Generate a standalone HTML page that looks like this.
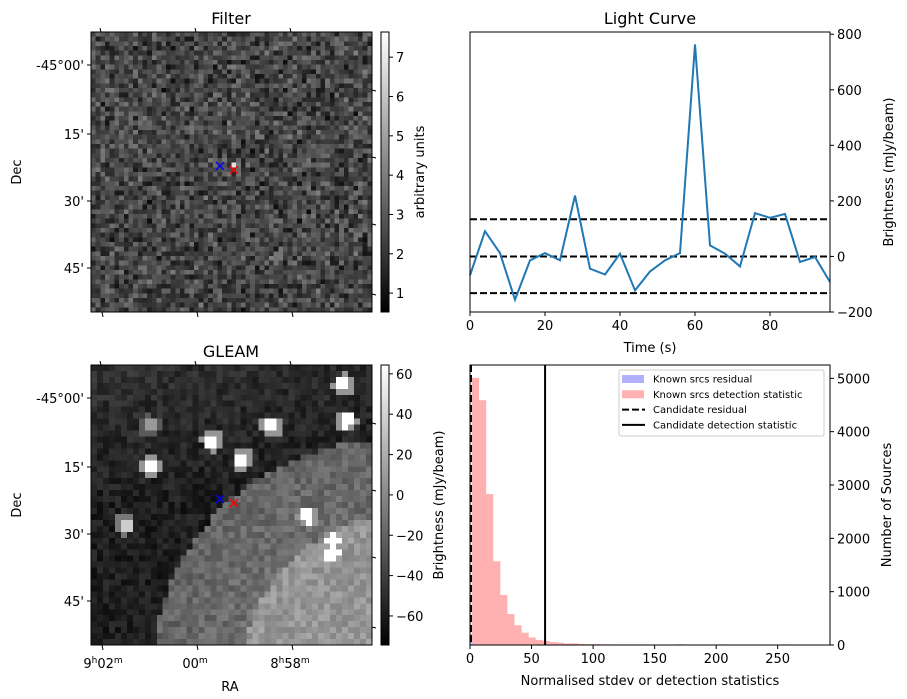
<!DOCTYPE html>
<html><head><meta charset="utf-8">
<style>
body{margin:0;background:#fff;}
#wrap{position:relative;width:907px;height:699px;overflow:hidden;font-family:"DejaVu Sans","Liberation Sans",sans-serif;}
canvas{position:absolute;image-rendering:pixelated;}
svg{position:absolute;left:0;top:0;}
text{font-family:"DejaVu Sans","Liberation Sans",sans-serif;fill:#000;}
</style></head>
<body>
<div id="wrap">
<canvas id="imgF" width="60" height="60" style="left:91px;top:32px;width:281px;height:280px"></canvas>
<canvas id="imgG" width="47" height="47" style="left:91px;top:365px;width:281px;height:280px"></canvas>
<svg id="svg" width="907" height="699" xmlns="http://www.w3.org/2000/svg">
<defs>
<linearGradient id="gray" x1="0" y1="1" x2="0" y2="0"><stop offset="0" stop-color="#000"/><stop offset="1" stop-color="#fff"/></linearGradient>
</defs>
</svg>
</div>
<script>
// Light curve data
const lcTimes=[0,4,8,12,16,20,24,28,32,36,40,44,48,52,56,60,64,68,72,76,80,84,88,92,96];
const lcValues=[-68,91,12,-156,-14,12,-14,219,-44,-65,10,-122,-54,-14,12,763,40,10,-36,156,139,153,-20,-2,-92];
const lcThresholds=[134,0,-132];
const lcXTicks=[0,20,40,60,80];
const lcYTicks=[-200,0,200,400,600,800];
// Histogram data
const histStart=1.4, histWidth=5.75;
const histCounts=[5010,4590,2830,1570,940,580,370,230,140,95,75,55,45,30,30,20,15,15,12,12,10,10,10,10,10,10,8,8,0,15,0,0,0,0,0,12,0,0,0,0,0,0,0,0,10,0,0,0,0,0];
const residCounts=[200,40];
const candidateResidual=0.8;
const candidateStat=61;
const histXTicks=[0,50,100,150,200,250];
const histYTicks=[0,1000,2000,3000,4000,5000];
const filterCbTicks=[1,2,3,4,5,6,7];
const gleamCbTicks=[-60,-40,-20,0,20,40,60];
const decLabels=["-45°00'","15'","30'","45'"];

const svg=document.getElementById('svg');
const NS='http://www.w3.org/2000/svg';
function mk(tag,attrs,parent,txt){const e=document.createElementNS(NS,tag);for(const k in attrs)e.setAttribute(k,attrs[k]);if(txt!==undefined)e.textContent=txt;(parent||svg).appendChild(e);return e;}

// ---- Light curve ----
const LC={x0:470,x1:830,y0:32,y1:312,xmin:0,xmax:96,ymin:-200,ymax:808};
const lx=v=>LC.x0+(v-LC.xmin)/(LC.xmax-LC.xmin)*(LC.x1-LC.x0);
const ly=v=>LC.y1-(v-LC.ymin)/(LC.ymax-LC.ymin)*(LC.y1-LC.y0);
const gLC=mk('g',{});


lcThresholds.forEach(t=>{const l=mk('line',{x1:LC.x0,x2:LC.x1,y1:ly(t),y2:ly(t),stroke:'#000','stroke-width':2,'stroke-dasharray':'7,3'},gLC);

});
const lcPath=mk('polyline',{points:lcTimes.map((t,i)=>lx(t)+','+ly(lcValues[i])).join(' '),fill:'none',stroke:'#1f77b4','stroke-width':2},gLC);


mk('rect',{x:LC.x0,y:LC.y0,width:LC.x1-LC.x0,height:LC.y1-LC.y0,fill:'none',stroke:'#000','stroke-width':1},gLC);
lcXTicks.forEach(t=>{mk('line',{x1:lx(t),x2:lx(t),y1:LC.y1,y2:LC.y1+4,stroke:'#000'},gLC);
const tx=mk('text',{x:lx(t),y:LC.y1+18,'text-anchor':'middle','font-size':13},gLC,t);

});
lcYTicks.forEach(t=>{mk('line',{x1:LC.x1,x2:LC.x1+4,y1:ly(t),y2:ly(t),stroke:'#000'},gLC);
const tx=mk('text',{x:LC.x1+7,y:ly(t)+5,'font-size':13},gLC,(t<0?'−'+(-t):t));

});
mk('text',{x:650,y:24,'text-anchor':'middle','font-size':16},gLC,'Light Curve');
mk('text',{x:650,y:352,'text-anchor':'middle','font-size':13},gLC,'Time (s)');
mk('text',{x:0,y:0,'text-anchor':'middle','font-size':13,transform:'translate(893,172) rotate(-90)'},gLC,'Brightness (mJy/beam)');

// ---- Histogram ----
const H={x0:470,x1:830,y0:365,y1:645,xmin:0,xmax:292.5,ymin:0,ymax:5250};
const hx=v=>H.x0+(v-H.xmin)/(H.xmax-H.xmin)*(H.x1-H.x0);
const hy=v=>H.y1-(v-H.ymin)/(H.ymax-H.ymin)*(H.y1-H.y0);
const gH=mk('g',{});


histCounts.forEach((c,i)=>{if(!c)return;const a=histStart+i*histWidth;
const r=mk('rect',{x:hx(a),y:hy(c),width:hx(a+histWidth)-hx(a)+0.3,height:hy(0)-hy(c),fill:'#ffb0b0'},gH);

});
residCounts.forEach((c,i)=>{const a=0.2+i*1.2;
const r=mk('rect',{x:hx(a),y:hy(c),width:hx(a+1.2)-hx(a),height:hy(0)-hy(c),fill:'#b0b0ff',opacity:0.8},gH);

});
const cr=mk('line',{x1:hx(candidateResidual),x2:hx(candidateResidual),y1:H.y0,y2:H.y1,stroke:'#000','stroke-width':2,'stroke-dasharray':'7,3'},gH);


const cs=mk('line',{x1:hx(candidateStat),x2:hx(candidateStat),y1:H.y0,y2:H.y1,stroke:'#000','stroke-width':2},gH);


mk('rect',{x:H.x0,y:H.y0,width:H.x1-H.x0,height:H.y1-H.y0,fill:'none',stroke:'#000'},gH);
histXTicks.forEach(t=>{mk('line',{x1:hx(t),x2:hx(t),y1:H.y1,y2:H.y1+4,stroke:'#000'},gH);
const tx=mk('text',{x:hx(t),y:H.y1+18,'text-anchor':'middle','font-size':13},gH,t);

});
histYTicks.forEach(t=>{mk('line',{x1:H.x1,x2:H.x1+4,y1:hy(t),y2:hy(t),stroke:'#000'},gH);
const tx=mk('text',{x:H.x1+7,y:hy(t)+5,'font-size':13},gH,t);

});
mk('text',{x:650,y:685,'text-anchor':'middle','font-size':13},gH,'Normalised stdev or detection statistics');
mk('text',{x:0,y:0,'text-anchor':'middle','font-size':13,transform:'translate(891,505) rotate(-90)'},gH,'Number of Sources');
// legend
const lg=mk('g',{},gH);


mk('rect',{x:619,y:370,width:205,height:66,fill:'#fff',stroke:'#ccc',rx:2},lg);
const legItems=[['patch','#b0b0ff','Known srcs residual'],['patch','#ffb0b0','Known srcs detection statistic'],['dash','','Candidate residual'],['line','','Candidate detection statistic']];
legItems.forEach((it,i)=>{const y=379+i*15.3;
if(it[0]==='patch')mk('rect',{x:622,y:y-4,width:22,height:8,fill:it[1]},lg);
else mk('line',{x1:622,x2:645,y1:y,y2:y,stroke:'#000','stroke-width':2,'stroke-dasharray':it[0]==='dash'?'7,3':''},lg);
const t=mk('text',{x:653,y:y+3.5,'font-size':10},lg,it[2]);

});

// ---- Image panels ----
function axesImage(top,title,cbMin,cbMax,cbTicks,cbLabel,showRA,cbLabelX){
  const g=mk('g',{});
  
  
  mk('rect',{x:91,y:top,width:281,height:280,fill:'none',stroke:'#000'},g);
  mk('text',{x:231,y:top-8,'text-anchor':'middle','font-size':16},g,title);
  const decY=[33,102,169,236];
  decLabels.forEach((d,i)=>{mk('line',{x1:87,x2:91,y1:top+decY[i],y2:top+decY[i],stroke:'#000'},g);
  const t=mk('text',{x:84,y:top+decY[i]+5,'text-anchor':'end','font-size':13},g,d);
  
  });
  [100,195,290].forEach(x=>{mk('line',{x1:x,x2:x+1,y1:top-4,y2:top,stroke:'#000'},g);mk('line',{x1:x+2,x2:x+3,y1:top+280,y2:top+285,stroke:'#000'},g);});
  [58,125,192,262].forEach(y=>mk('line',{x1:372,x2:376,y1:top+y,y2:top+y+1,stroke:'#000'},g));
  mk('text',{x:0,y:0,'text-anchor':'middle','font-size':13,transform:'translate(21,'+(top+140)+') rotate(-90)'},g,'Dec');
  if(showRA){
    const ra=[[103,'9','02'],[195,'','00'],[290,'8','58']];
    ra.forEach(r=>{const t=mk('text',{x:r[0],y:top+303,'text-anchor':'middle','font-size':13},g);
    
    
    t.innerHTML=(r[1]?r[1]+'<tspan font-size="9" dy="-5">h</tspan><tspan dy="5">'+r[2]+'</tspan>':r[2])+'<tspan font-size="9" dy="-5">m</tspan>';});
    mk('text',{x:230,y:top+326,'text-anchor':'middle','font-size':13},g,'RA');
  }
  const cb=mk('rect',{x:381,y:top,width:8,height:280,fill:'url(#gray)',stroke:'#000'},g);
  
  
  const cy=v=>top+280-(v-cbMin)/(cbMax-cbMin)*280;
  cbTicks.forEach(t=>{mk('line',{x1:389,x2:393,y1:cy(t),y2:cy(t),stroke:'#000'},g);
  const tx=mk('text',{x:396,y:cy(t)+5,'font-size':13},g,t<0?'−'+(-t):t);
  
  });
  mk('text',{x:0,y:0,'text-anchor':'middle','font-size':13,transform:'translate('+cbLabelX+','+(top+140)+') rotate(-90)'},g,cbLabel);
  // markers
  [[220,top+134,'#0000ff'],[234,top+138,'#ff0000']].forEach(m=>{const s=4;
  const p=mk('path',{d:`M${m[0]-s},${m[1]-s}L${m[0]+s},${m[1]+s}M${m[0]-s},${m[1]+s}L${m[0]+s},${m[1]-s}`,stroke:m[2],'stroke-width':1.5},g);
  
  });
}
axesImage(32,'Filter',0.52,7.64,filterCbTicks,'arbitrary units',false,424);
axesImage(365,'GLEAM',-74.4,64.4,gleamCbTicks,'Brightness (mJy/beam)',true,443);

// image textures (deterministic)
let seed=12345;function rnd(){seed=(seed*1103515245+12345)%2147483648;return seed/2147483648;}
function paint(id,n,fn){const c=document.getElementById(id).getContext('2d');const im=c.createImageData(n,n);
for(let j=0;j<n;j++)for(let i=0;i<n;i++){const v=Math.max(0,Math.min(255,fn((i+0.5)/n,(j+0.5)/n)));const k=(j*n+i)*4;im.data[k]=im.data[k+1]=im.data[k+2]=v;im.data[k+3]=255;}
c.putImageData(im,0,0);}
paint('imgF',60,(u,v)=>{let b=(rnd()+rnd())/2;let val=10+b*120;if(Math.abs(u-0.508)<0.009&&Math.abs(v-0.475)<0.009)val=225;return val;});
const blobs=[[0.9,0.07,1],[0.91,0.2,1],[0.64,0.22,1],[0.43,0.27,1],[0.54,0.34,1],[0.21,0.36,1],[0.21,0.22,0.6],[0.12,0.57,0.8],[0.77,0.54,1],[0.86,0.63,1],[0.86,0.68,1]];
paint('imgG',47,(u,v)=>{const d1=Math.hypot(u-1.05,v-1.1),d2=Math.hypot(u-1.1,v-1.1);
let val=12+rnd()*35+Math.max(0,0.5-v)*40*(1-u*0.5);if(d1<0.83)val=80+rnd()*40+(0.83-d1)*30;if(d2<0.56)val=130+rnd()*40;
blobs.forEach(b=>{const d=Math.hypot(u-b[0],v-b[1]);if(d<0.025)val=Math.max(val,255*b[2]);else if(d<0.04)val=Math.max(val,150*b[2]);});return val;});
</script>
</body></html>
